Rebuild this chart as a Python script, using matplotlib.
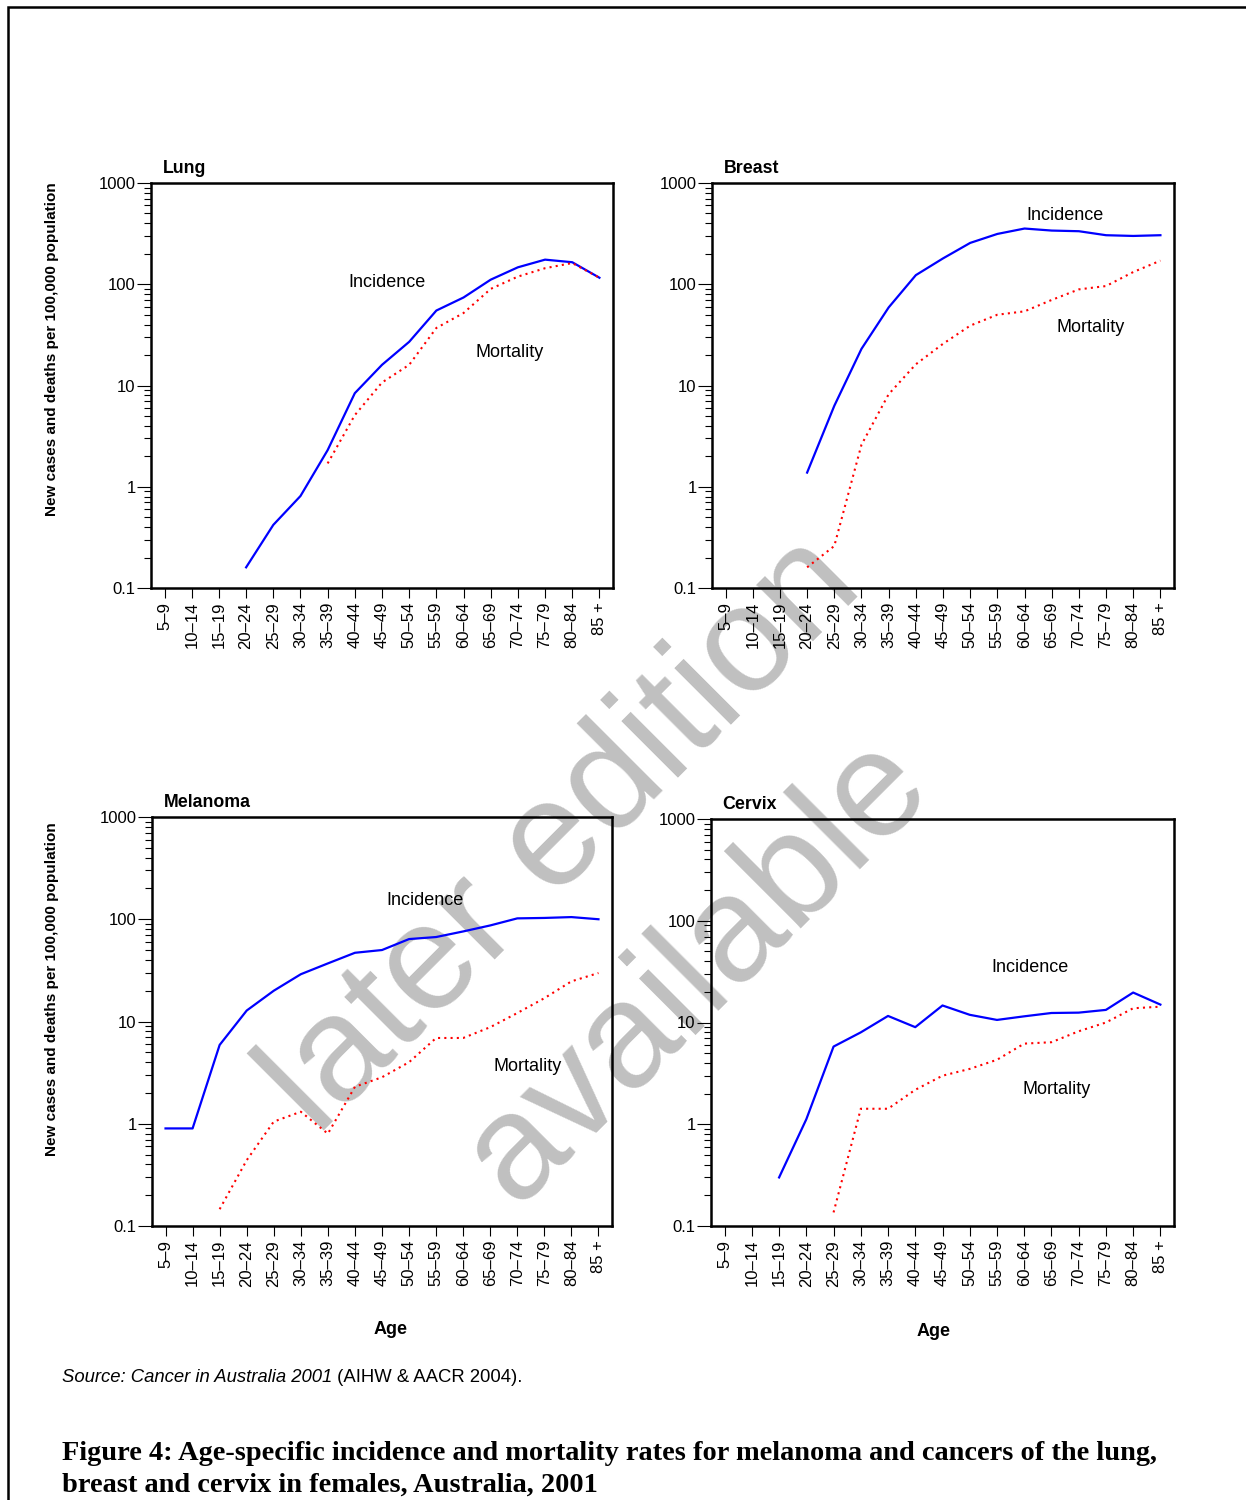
import matplotlib.pyplot as plt
import numpy as np
from matplotlib.patches import Rectangle
from matplotlib.text import Annotation
from matplotlib.ticker import LogLocator, FixedLocator, FixedFormatter, NullFormatter

plt.rcParams['font.family'] = ['Liberation Sans', 'DejaVu Sans']

ages = ['5–9', '10–14', '15–19', '20–24', '25–29', '30–34', '35–39', '40–44',
        '45–49', '50–54', '55–59', '60–64', '65–69', '70–74', '75–79', '80–84', '85 +']

# rates per 100,000 females, None where no cases/deaths
lung_inc = [None, None, None, 0.16, 0.42, 0.81, 2.3, 8.4, 16, 27, 55, 74, 111, 147, 175, 165, 116]
lung_mort = [None, None, None, None, None, None, 1.7, 5.1, 10.7, 16, 37, 52, 90, 119, 144, 162, 116]

breast_inc = [None, None, None, 1.38, 6.3, 23, 59, 123, 180, 256, 314, 355, 339, 334, 305, 300, 305]
breast_mort = [None, None, None, 0.16, 0.26, 2.6, 8.2, 16.2, 25.8, 39, 50, 54, 70, 89, 96, 132, 171]

mel_inc = [0.9, 0.9, 5.9, 12.8, 20, 29, 37, 47, 50, 64, 67, 76, 87, 102, 103, 105, 100]
mel_mort = [None, None, 0.146, 0.44, 1.05, 1.31, 0.80, 2.3, 2.85, 4.0, 6.9, 6.9, 8.8, 12.1, 16.9, 24.7, 29.8]

cerv_inc = [None, None, 0.30, 1.12, 5.8, 8.0, 11.6, 9.0, 14.7, 11.9, 10.6, 11.5, 12.4, 12.5, 13.3, 19.7, 15.0]
cerv_mort = [None, None, None, None, 0.136, 1.42, 1.42, 2.18, 3.0, 3.5, 4.3, 6.2, 6.4, 8.2, 10, 13.8, 14.3]

W, H = 1246, 1500
fig = plt.figure(figsize=(W / 100, H / 100), dpi=100)


def fx(px):
    return px / W


def fy(py):
    return 1 - py / H


def panel(rect, title, inc, mort, inc_xy, mort_xy):
    l, t, r, b = rect
    ax = fig.add_axes([fx(l), fy(b), fx(r) - fx(l), fy(t) - fy(b)])
    ax.set_facecolor('none')
    x = np.arange(len(ages))
    ax.plot(x, np.array(inc, dtype=float), color='#0000ff', lw=1.6, solid_joinstyle='round')
    ax.plot(x, np.array(mort, dtype=float), color='#ff0000', lw=1.5, linestyle=(0, (1, 2)))
    ax.set_yscale('log')
    ax.set_ylim(0.1, 1000)
    ax.set_xlim(-0.5, len(ages) - 0.5)
    ax.yaxis.set_major_locator(FixedLocator([0.1, 1, 10, 100, 1000]))
    ax.yaxis.set_major_formatter(FixedFormatter(['0.1', '1', '10', '100', '1000']))
    ax.yaxis.set_minor_locator(LogLocator(base=10, subs=np.arange(2, 10)))
    ax.yaxis.set_minor_formatter(NullFormatter())
    ax.set_xticks(x)
    ax.set_xticklabels(ages, rotation=90, fontsize=12)
    ax.tick_params(axis='y', which='major', length=10, width=0.8, pad=1, labelsize=12)
    ax.tick_params(axis='y', which='minor', length=5, width=0.8)
    ax.tick_params(axis='x', length=7, width=0.8, pad=3)
    for s in ax.spines.values():
        s.set_linewidth(1.8)
    ax.text(0.025, 1.015, title, transform=ax.transAxes, fontsize=12.8, weight='bold',
            ha='left', va='bottom')
    ax.text(*inc_xy, 'Incidence', fontsize=13, ha='center', va='center')
    ax.text(*mort_xy, 'Mortality', fontsize=13, ha='center', va='center')
    return ax


panel((151, 183, 613, 588), 'Lung', lung_inc, lung_mort, (8.2, 104), (12.7, 21.4))
panel((712, 183, 1174, 588), 'Breast', breast_inc, breast_mort, (12.5, 483), (13.45, 37))
panel((152, 817, 612, 1226), 'Melanoma', mel_inc, mel_mort, (9.6, 154), (13.4, 3.6))
panel((711, 819, 1174, 1226), 'Cervix', cerv_inc, cerv_mort, (11.2, 35), (12.2, 2.2))

ylab = 'New cases and deaths per 100,000 population'
fig.text(fx(52), fy(182), ylab, rotation=90, ha='center', va='top', fontsize=11, weight='bold')
fig.text(fx(52), fy(822), ylab, rotation=90, ha='center', va='top', fontsize=11, weight='bold')
fig.text(fx(391), fy(1330), 'Age', ha='center', va='center', fontsize=13, weight='bold')
fig.text(fx(934), fy(1332), 'Age', ha='center', va='center', fontsize=13, weight='bold')

# source line: italic title followed by plain citation
src = fig.text(fx(62), fy(1378), 'Source: Cancer in Australia 2001', style='italic',
               fontsize=13.3, ha='left', va='center')
fig.add_artist(Annotation(' (AIHW & AACR 2004).', xy=(1, 0), xycoords=src,
                          fontsize=13.3, ha='left', va='bottom'))

cap_kw = dict(family=['Liberation Serif', 'DejaVu Serif'], weight='bold', fontsize=20.4,
              ha='left', va='center')
fig.text(fx(62), fy(1453), 'Figure 4: Age-specific incidence and mortality rates for '
         'melanoma and cancers of the lung,', **cap_kw)
fig.text(fx(62), fy(1485), 'breast and cervix in females, Australia, 2001', **cap_kw)

# watermark behind the plots
wm = dict(fontsize=108, color='#c0c0c0', rotation=45, rotation_mode='anchor',
          ha='center', va='center', zorder=-5)
fig.text(fx(564), fy(836), 'later edition', **wm)
fig.text(fx(697), fy(970), 'available', **wm)

# page frame
fig.add_artist(Rectangle((fx(8), -0.2), 2, fy(7) + 0.2, transform=fig.transFigure,
                         fill=False, lw=1.8, edgecolor='black'))

fig.savefig('out.png', dpi=100)
